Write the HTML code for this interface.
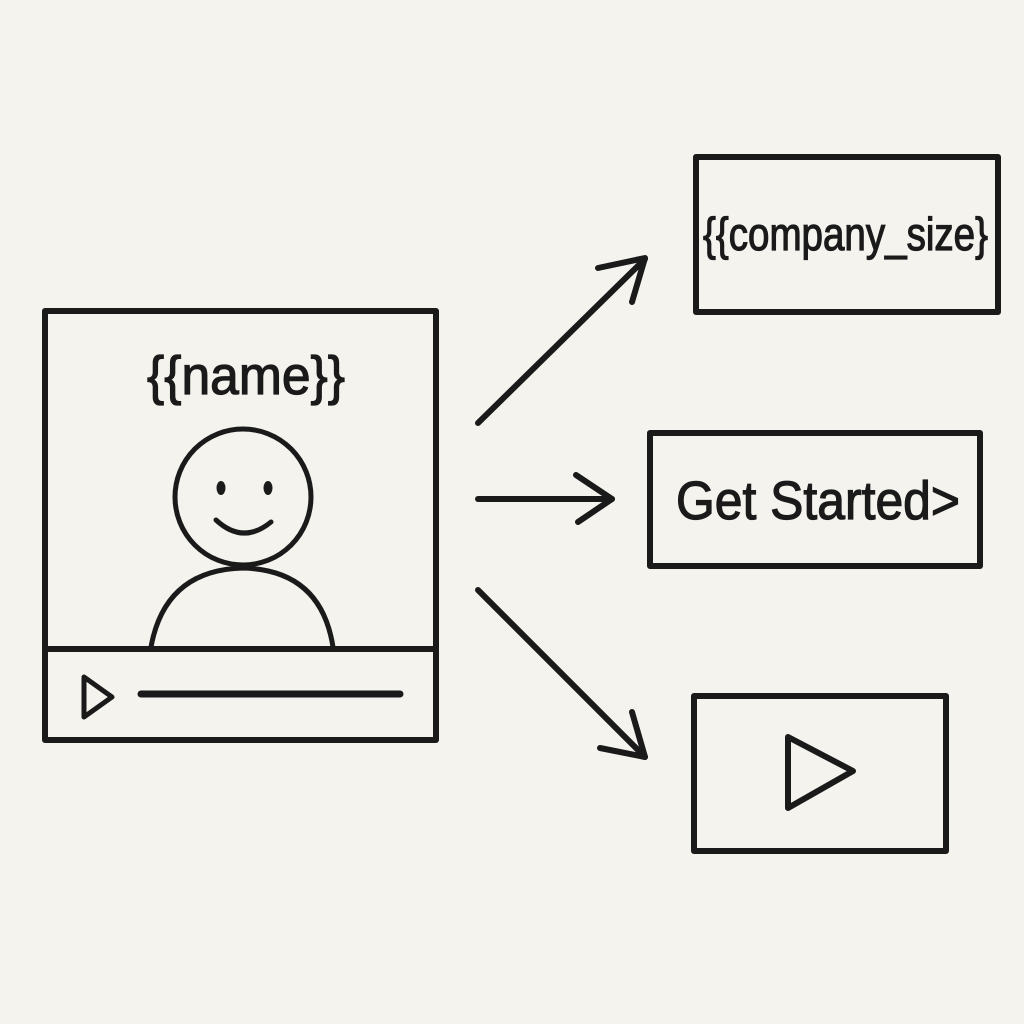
<!DOCTYPE html>
<html><head><meta charset="utf-8"><style>
html,body{margin:0;padding:0;background:#f5f3ee;}
svg{display:block}
text{font-family:"Liberation Sans Narrow","Liberation Sans",sans-serif;fill:#1a1a1a;stroke:#1a1a1a;stroke-width:1.2}
</style></head><body>
<svg width="1024" height="1024" viewBox="0 0 1024 1024" xmlns="http://www.w3.org/2000/svg">
<rect width="1024" height="1024" fill="#f5f3ee"/>
<g fill="none" stroke="#1a1a1a" stroke-width="6" stroke-linecap="round" stroke-linejoin="round">
<rect x="45" y="311" width="391" height="429"/>
<line x1="45" y1="649" x2="436" y2="649"/>
<polygon points="84,677 112,697 84,717" stroke-width="5"/>
<line x1="141" y1="694" x2="400" y2="694" stroke-width="7"/>
<circle cx="243" cy="497" r="68" stroke-width="5"/>
<path d="M216 520 Q243 545 271 522" stroke-width="5"/>
<path d="M151 647 Q165 570 243 568 Q321 570 333 647" stroke-width="5"/>
<line x1="478" y1="423" x2="645" y2="259"/>
<polyline points="598,268 645,258 632,302"/>
<line x1="478" y1="499" x2="612" y2="499"/>
<polyline points="576,475 612,499 578,522"/>
<line x1="478" y1="590" x2="645" y2="757"/>
<polyline points="600,748 645,757 632,712"/>
<rect x="696" y="157" width="302" height="155"/>
<rect x="650" y="433" width="330" height="133"/>
<rect x="694" y="696" width="252" height="155"/>
<polygon points="788,737 853,771 788,808"/>
</g>
<ellipse cx="221" cy="488" rx="4.5" ry="7" fill="#1a1a1a"/>
<ellipse cx="268" cy="488" rx="4.5" ry="7" fill="#1a1a1a"/>
<text x="147" y="394" font-size="54" textLength="198" lengthAdjust="spacingAndGlyphs">{{name}}</text>
<text x="703" y="250" font-size="46" textLength="285" lengthAdjust="spacingAndGlyphs">{{company_size}</text>
<text x="676" y="519" font-size="54" textLength="284" lengthAdjust="spacingAndGlyphs">Get Started&gt;</text>
</svg>
</body></html>
